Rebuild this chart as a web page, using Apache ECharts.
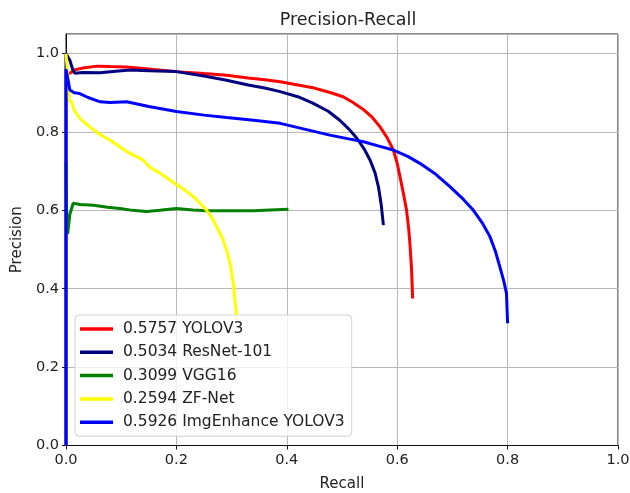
<!DOCTYPE html>
<html><head><meta charset="utf-8">
<script src="https://cdn.jsdelivr.net/npm/echarts@6/dist/echarts.min.js"></script>
<style>html,body{margin:0;padding:0;background:#fff}#c{width:630px;height:493px}</style>
</head><body><div id="c"></div>
<script>
var seriesNames = ['0.5757 YOLOV3','0.5034 ResNet-101','0.3099 VGG16','0.2594 ZF-Net','0.5926 ImgEnhance YOLOV3'];
var xTicks = [0,0.2,0.4,0.6,0.8,1.0];
var yTicks = [0,0.2,0.4,0.6,0.8,1.0];
var yolov3 = [[0,0.96],[0.003,0.95],[0.007,0.95],[0.015,0.958],[0.03,0.963],[0.056,0.968],[0.08,0.967],[0.11,0.966],[0.15,0.961],[0.2,0.954],[0.25,0.949],[0.291,0.945],[0.33,0.938],[0.36,0.933],[0.388,0.928],[0.42,0.92],[0.45,0.912],[0.48,0.9],[0.502,0.89],[0.52,0.875],[0.54,0.856],[0.555,0.837],[0.569,0.813],[0.582,0.785],[0.593,0.754],[0.6,0.72],[0.605,0.686],[0.611,0.645],[0.617,0.6],[0.621,0.55],[0.623,0.516],[0.626,0.45],[0.628,0.375]];
var resnet101 = [[0,0],[0,1.0],[0.004,0.99],[0.007,0.983],[0.012,0.96],[0.016,0.95],[0.03,0.952],[0.062,0.951],[0.09,0.955],[0.116,0.958],[0.15,0.956],[0.2,0.954],[0.25,0.943],[0.291,0.932],[0.33,0.92],[0.36,0.912],[0.388,0.903],[0.42,0.89],[0.448,0.873],[0.475,0.853],[0.496,0.83],[0.512,0.808],[0.527,0.784],[0.54,0.757],[0.551,0.728],[0.56,0.695],[0.566,0.66],[0.571,0.615],[0.575,0.5625]];
var vgg16 = [[0,0.72],[0.001,0.6],[0.003,0.54],[0.007,0.59],[0.013,0.618],[0.025,0.615],[0.05,0.613],[0.075,0.608],[0.098,0.605],[0.12,0.6],[0.146,0.597],[0.17,0.6],[0.2,0.605],[0.23,0.601],[0.255,0.599],[0.3,0.599],[0.339,0.599],[0.37,0.601],[0.403,0.603]];
var zfnet = [[0,1.0],[0.003,0.95],[0.006,0.88],[0.01,0.877],[0.015,0.855],[0.025,0.835],[0.043,0.813],[0.06,0.795],[0.08,0.779],[0.11,0.75],[0.14,0.728],[0.152,0.71],[0.17,0.695],[0.194,0.672],[0.215,0.652],[0.231,0.635],[0.245,0.615],[0.255,0.6],[0.265,0.58],[0.273,0.558],[0.283,0.53],[0.291,0.499],[0.298,0.46],[0.303,0.414],[0.306,0.37],[0.309,0.333]];
var imgEnhance = [[0,0],[0,0.96],[0.004,0.93],[0.007,0.907],[0.015,0.9],[0.025,0.898],[0.04,0.888],[0.062,0.877],[0.08,0.875],[0.11,0.877],[0.15,0.865],[0.2,0.852],[0.25,0.843],[0.291,0.837],[0.34,0.83],[0.388,0.822],[0.43,0.808],[0.478,0.792],[0.51,0.783],[0.539,0.775],[0.567,0.764],[0.593,0.754],[0.62,0.737],[0.641,0.72],[0.67,0.692],[0.696,0.66],[0.72,0.628],[0.738,0.6],[0.755,0.566],[0.768,0.533],[0.778,0.495],[0.786,0.456],[0.793,0.42],[0.798,0.388],[0.8,0.312]];
var allData = [yolov3, resnet101, vgg16, zfnet, imgEnhance];
var colors = ['#ff0000','#000080','#008000','#ffff00','#0000ff'];

var FONT = 'DejaVu Sans';
var chart = echarts.init(document.getElementById('c'), null, {renderer:'canvas'});
function lbl(v){ for (var i=0;i<xTicks.length;i++){ if (Math.abs(xTicks[i]-v)<1e-6) return xTicks[i].toFixed(1);} return ''; }
function lblY(v){ for (var i=0;i<yTicks.length;i++){ if (Math.abs(yTicks[i]-v)<1e-6) return yTicks[i].toFixed(1);} return ''; }
var option = {
  animation:false,
  backgroundColor:'#fff',
  title:{text:'Precision-Recall', left:343, top:6, textAlign:'center',
    textStyle:{fontFamily:FONT, fontSize:17.5, fontWeight:'normal', color:'#222'}},
  grid:{left:66, right:12, top:34, bottom:47.5, show:true, borderColor:'#111', borderWidth:1, containLabel:false, outerBoundsMode:'none'},
  legend:{orient:'vertical', left:75, top:315, data:seriesNames,
    icon:'rect', itemWidth:33, itemHeight:3.5, itemGap:7.3,
    padding:[6,7,6,5], backgroundColor:'rgba(255,255,255,0.8)', borderColor:'#d0d0d0', borderWidth:1, borderRadius:4,
    textStyle:{fontFamily:FONT, fontSize:15.5, color:'#222', lineHeight:16, padding:[0,0,0,5]}},
  xAxis:{type:'value', min:0, max:1, interval:0.2, name:'Recall', nameLocation:'middle', nameGap:31,
    nameTextStyle:{fontFamily:FONT, fontSize:15, color:'#222'},
    axisLine:{show:true, onZero:false, lineStyle:{color:'#111'}},
    axisTick:{show:true, length:4, lineStyle:{color:'#111'}},
    axisLabel:{fontFamily:FONT, fontSize:14.5, color:'#222', margin:7, formatter:lbl},
    splitLine:{show:true, lineStyle:{color:'#b8b8b8', width:1}}},
  yAxis:{type:'value', min:0, max:1.05, interval:0.2, name:'Precision', nameLocation:'middle', nameGap:41,
    nameTextStyle:{fontFamily:FONT, fontSize:15, color:'#222'},
    axisLine:{show:true, onZero:false, lineStyle:{color:'#111'}},
    axisTick:{show:true, length:4, lineStyle:{color:'#111'}},
    axisLabel:{fontFamily:FONT, fontSize:14.5, color:'#222', margin:7, formatter:lblY, showMaxLabel:false},
    splitLine:{show:true, lineStyle:{color:'#b8b8b8', width:1}}},
  series: allData.map(function(d,i){
    return {name:seriesNames[i], type:'line', data:d, showSymbol:false, symbol:'none',
      lineStyle:{color:colors[i], width:3}, itemStyle:{color:colors[i]}, smooth:false, z:2+i};
  })
};
chart.setOption(option);
</script></body></html>
